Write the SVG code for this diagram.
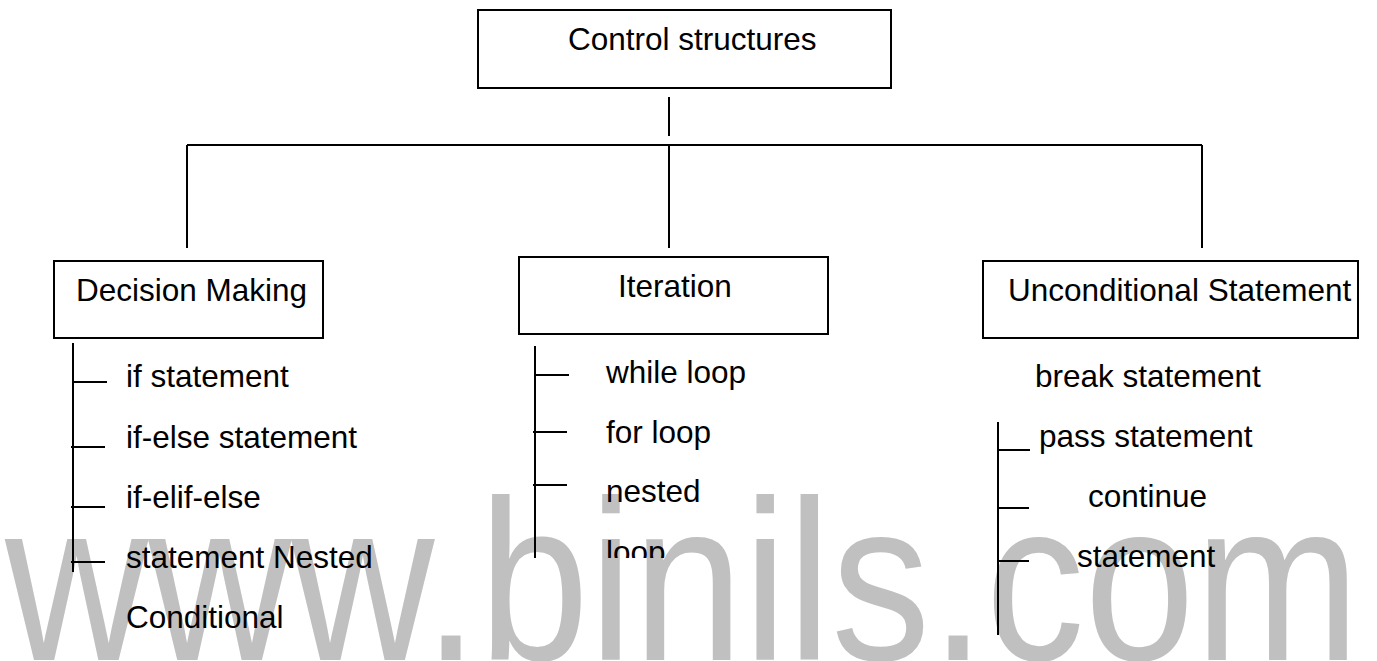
<svg xmlns="http://www.w3.org/2000/svg" width="1377" height="661" viewBox="0 0 1377 661">
<style>
.box{fill:#fff;stroke:#000;stroke-width:2}
.t{font-family:"Liberation Sans",Arial,sans-serif;font-size:31.5px;fill:#000}
.ln{stroke:#000;stroke-width:2;fill:none}
.wm{font-family:"Liberation Sans",Arial,sans-serif;font-size:228px;fill:#c0c0c0}
</style>
<defs>
<clipPath id="clipLoop"><rect x="590" y="520" width="200" height="38"/></clipPath>
</defs>
<rect width="1377" height="661" fill="#fff"/>
<text class="wm" x="5" y="660" textLength="1355" lengthAdjust="spacingAndGlyphs">www.binils.com</text>
<g id="connectors">
<line class="ln" x1="669" y1="97" x2="669" y2="136"/>
<line class="ln" x1="187" y1="145" x2="1202" y2="145"/>
<line class="ln" x1="187" y1="145" x2="187" y2="248"/>
<line class="ln" x1="669" y1="145" x2="669" y2="248"/>
<line class="ln" x1="1202" y1="145" x2="1202" y2="248"/>
<line class="ln" x1="73" y1="343" x2="73" y2="572"/>
<line class="ln" x1="73" y1="382" x2="107" y2="382"/>
<line class="ln" x1="71" y1="447" x2="105" y2="447"/>
<line class="ln" x1="71" y1="507" x2="105" y2="507"/>
<line class="ln" x1="71" y1="562" x2="105" y2="562"/>
<line class="ln" x1="535" y1="346" x2="535" y2="558"/>
<line class="ln" x1="535" y1="375" x2="569" y2="375"/>
<line class="ln" x1="533" y1="432" x2="567" y2="432"/>
<line class="ln" x1="533" y1="485" x2="567" y2="485"/>
<line class="ln" x1="998" y1="422" x2="998" y2="635"/>
<line class="ln" x1="998" y1="450" x2="1030" y2="450"/>
<line class="ln" x1="997" y1="508" x2="1029" y2="508"/>
<line class="ln" x1="997" y1="561" x2="1029" y2="561"/>
</g>
<g id="control-structures">
<rect class="box" x="478" y="10" width="413" height="78"/>
<text class="t" x="568" y="50">Control structures</text>
</g>
<g id="decision-making">
<rect class="box" x="54" y="261" width="269" height="77"/>
<text class="t" x="76" y="301">Decision Making</text>
</g>
<g id="iteration">
<rect class="box" x="519" y="257" width="309" height="77"/>
<text class="t" x="618" y="297">Iteration</text>
</g>
<g id="unconditional">
<rect class="box" x="983" y="261" width="375" height="77"/>
<text class="t" x="1008" y="301">Unconditional Statement</text>
</g>
<g id="decision-items">
<text class="t" x="126" y="387">if statement</text>
<text class="t" x="126" y="448">if-else statement</text>
<text class="t" x="126" y="508">if-elif-else</text>
<text class="t" x="126" y="568">statement Nested</text>
<text class="t" x="126" y="628">Conditional</text>
</g>
<g id="iteration-items">
<text class="t" x="606" y="383">while loop</text>
<text class="t" x="606" y="443">for loop</text>
<text class="t" x="606" y="502">nested</text>
<text class="t" x="606" y="563" clip-path="url(#clipLoop)">loop</text>
</g>
<g id="unconditional-items">
<text class="t" x="1035" y="387">break statement</text>
<text class="t" x="1039" y="447">pass statement</text>
<text class="t" x="1088" y="507">continue</text>
<text class="t" x="1077" y="567">statement</text>
</g>
</svg>
